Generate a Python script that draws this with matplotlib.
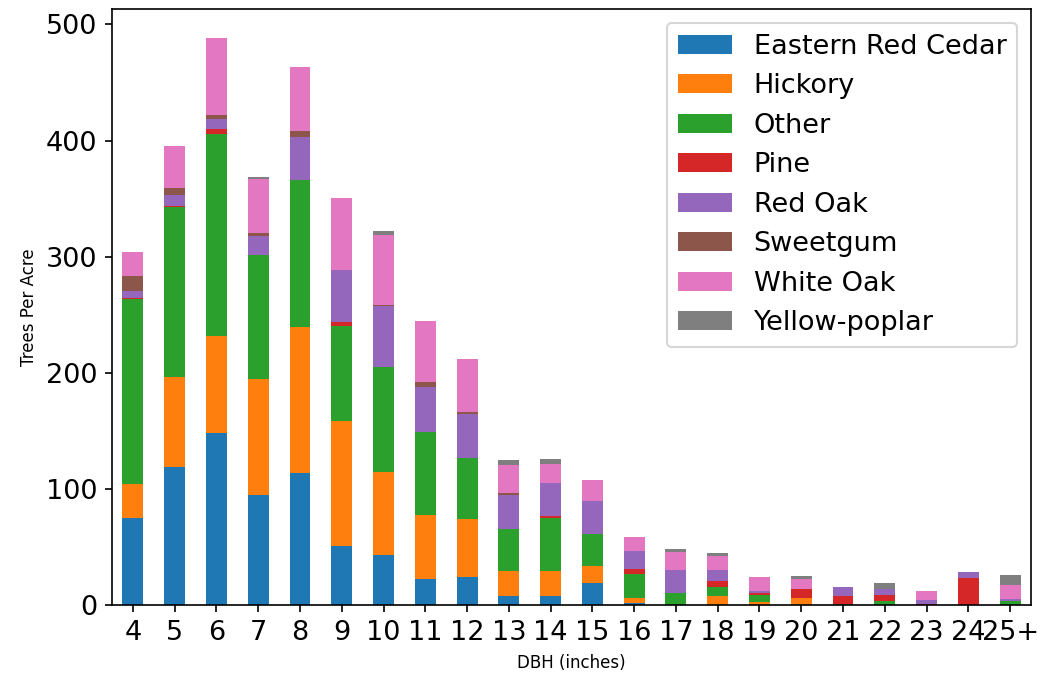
import matplotlib
matplotlib.use("Agg")
import matplotlib.pyplot as plt
import pandas as pd

dbh_classes = ["4", "5", "6", "7", "8", "9", "10", "11", "12", "13", "14", "15",
               "16", "17", "18", "19", "20", "21", "22", "23", "24", "25+"]

eastern_red_cedar = [75, 119, 148, 95, 114, 50.5, 43, 22.4, 24.1, 7.8, 7.8, 19,
                     2, 0, 0, 0, 0, 0, 0, 0, 0, 0]
hickory = [29, 77, 83.7, 100, 125, 108, 71.6, 55.2, 50, 21.5, 21.5, 14.6,
           4.3, 0, 8, 2.9, 6.3, 0, 0, 0, 0, 0]
other = [159.5, 146.5, 174, 106, 127, 81.7, 90, 71.5, 52.9, 36.2, 45.7, 27.6,
         20.7, 10.6, 7.8, 6, 0, 1.1, 3.7, 0, 0, 3.7]
pine = [0.7, 1, 4, 0, 0, 3.3, 0, 0, 0, 0, 1.7, 0,
        4.3, 0, 5.2, 1.7, 7.8, 6.9, 5.2, 1.1, 23.6, 0]
red_oak = [6, 9.6, 8.6, 17, 37, 44.8, 53.2, 38.8, 37.9, 29.3, 28.5, 28.5,
           15.5, 19.9, 9.5, 1.8, 0, 7.8, 5.2, 3.5, 5.1, 1.8]
sweetgum = [13, 6.2, 4, 2.3, 5.3, 0, 0.9, 4.3, 1.5, 1.8, 0, 0,
            0, 0, 0, 0, 0, 0, 0, 0, 0, 0]
white_oak = [21, 36, 66, 46.4, 55, 62.6, 59.8, 52.6, 45.7, 24.1, 16.4, 18.1,
             12.1, 15.5, 12, 12, 8.6, 0, 0, 7.8, 0, 12]
yellow_poplar = [0, 0, 0, 2, 0, 0, 3.2, 0, 0, 4.3, 4.3, 0,
                 0, 2.6, 2.6, 0, 2.6, 0, 5.2, 0, 0, 8.6]

df = pd.DataFrame(
    {
        "Eastern Red Cedar": eastern_red_cedar,
        "Hickory": hickory,
        "Other": other,
        "Pine": pine,
        "Red Oak": red_oak,
        "Sweetgum": sweetgum,
        "White Oak": white_oak,
        "Yellow-poplar": yellow_poplar,
    },
    index=dbh_classes,
)

fig, ax = plt.subplots(figsize=(1042 / 150, 683 / 150), dpi=150)
fig.subplots_adjust(left=0.1075, right=0.9894, bottom=0.1142, top=0.9864)

df.plot.bar(stacked=True, ax=ax, rot=0, width=0.5)
ax.set_ylim(0, 513)
ax.set_xlabel("DBH (inches)", fontsize=8)
ax.set_ylabel("Trees Per Acre", fontsize=8)
ax.tick_params(axis="both", labelsize=13)
ax.legend(loc="upper right", fontsize=13)

fig.savefig("out.png", dpi=150)
